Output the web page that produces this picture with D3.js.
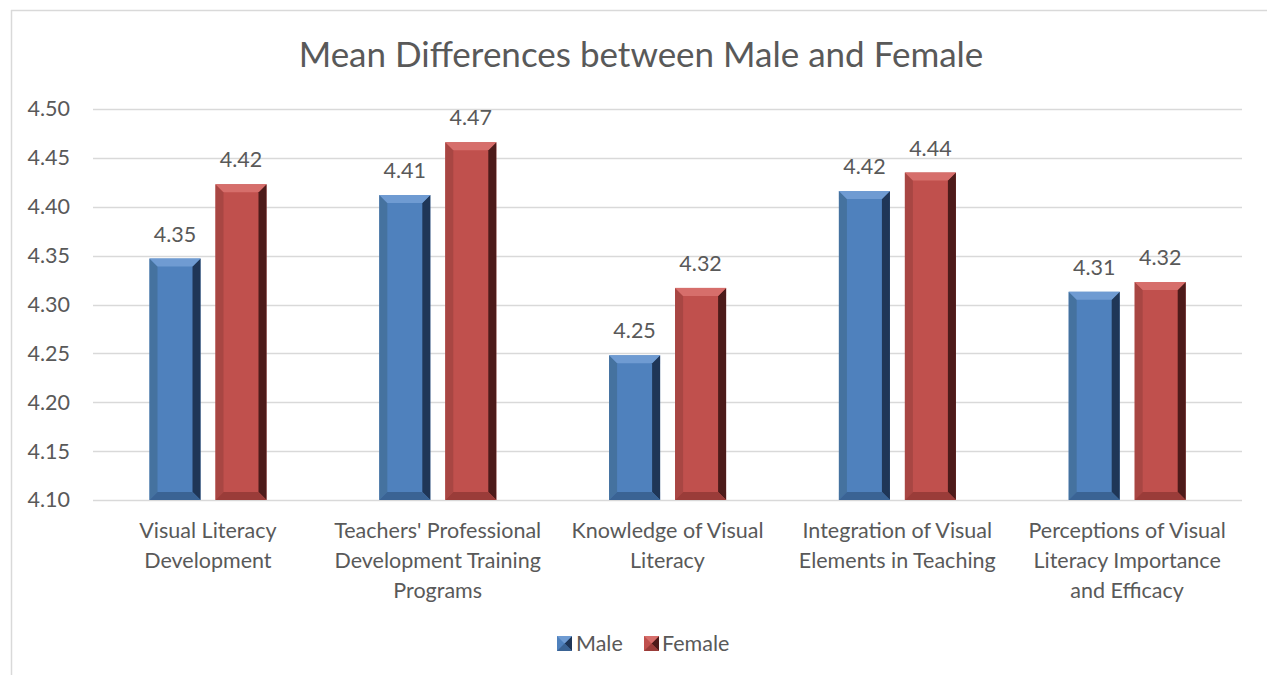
<!DOCTYPE html>
<html>
<head>
<meta charset="utf-8">
<script src="https://cdn.jsdelivr.net/npm/d3@7"></script>
<style>
  html, body { margin: 0; padding: 0; background: #fff; }
  svg { display: block; }
  text { font-family: Lato, "Liberation Sans", sans-serif; fill: #595959; }
</style>
</head>
<body>
<svg id="chart" width="1267" height="675"></svg>
<script>
const title = "Mean Differences between Male and Female";
const categories = [
  ["Visual Literacy", "Development"],
  ["Teachers' Professional", "Development Training", "Programs"],
  ["Knowledge of Visual", "Literacy"],
  ["Integration of Visual", "Elements in Teaching"],
  ["Perceptions of Visual", "Literacy Importance", "and Efficacy"]
];
const seriesNames = ["Male", "Female"];
const maleValues = [4.347, 4.412, 4.248, 4.416, 4.313];
const femaleValues = [4.423, 4.466, 4.317, 4.435, 4.323];
const maleLabels = ["4.35", "4.41", "4.25", "4.42", "4.31"];
const femaleLabels = ["4.42", "4.47", "4.32", "4.44", "4.32"];
const yTicks = [4.10, 4.15, 4.20, 4.25, 4.30, 4.35, 4.40, 4.45, 4.50];

const colors = {
  Male:   { base: "#4f81bd", light: "#6f9bd2", mid: "#45729f", dark: "#1f3657", bottom: "#3a6394" },
  Female: { base: "#c0504d", light: "#d66e6b", mid: "#a84643", dark: "#4d1b1a", bottom: "#9a3c39" }
};

const svg = d3.select("#chart");
const W = 1267, H = 675;
const plot = { left: 93, right: 1242, top: 109, bottom: 500 };
const FS = "21.5px";

// frame
svg.append("line").attr("x1", 11.5).attr("x2", 11.5).attr("y1", 10).attr("y2", H)
  .attr("stroke", "#d9d9d9").attr("stroke-width", 1.5);
svg.append("line").attr("x1", 11).attr("x2", W).attr("y1", 10.5).attr("y2", 10.5)
  .attr("stroke", "#d9d9d9").attr("stroke-width", 1.5);

// title
svg.append("text").attr("x", 641).attr("y", 67).attr("text-anchor", "middle")
  .style("font-size", "35px").text(title);

const y = d3.scaleLinear().domain([4.10, 4.50]).range([plot.bottom, plot.top]);
const x0 = d3.scaleBand().domain(d3.range(categories.length)).range([plot.left, plot.right]).padding(0);
const x1 = d3.scaleBand().domain(seriesNames).range([56.5, 173.5]).paddingInner(0.227).paddingOuter(0);

// gridlines
svg.append("g").selectAll("line").data(yTicks).join("line")
  .attr("x1", plot.left).attr("x2", plot.right)
  .attr("y1", d => Math.round(y(d)) + 0.5).attr("y2", d => Math.round(y(d)) + 0.5)
  .attr("stroke", "#d9d9d9").attr("stroke-width", 1.5);

// y axis labels
const yAxis = d3.axisLeft(y).tickValues(yTicks).tickFormat(d3.format(".2f")).tickSize(0).tickPadding(0);
const yg = svg.append("g").attr("transform", `translate(${70},0)`).call(yAxis);
yg.select(".domain").remove();
yg.selectAll("text").style("font-size", FS).attr("fill", "#595959")
  .style("font-family", "Lato, 'Liberation Sans', sans-serif");

// bars
const data = [];
categories.forEach((c, i) => {
  data.push({ i, s: "Male", v: maleValues[i], label: maleLabels[i] });
  data.push({ i, s: "Female", v: femaleValues[i], label: femaleLabels[i] });
});

const bev = 8;
const barG = svg.append("g");
data.forEach(d => {
  const bx = x0(d.i) + x1(d.s);
  const bw = x1.bandwidth();
  const by = y(d.v);
  const bh = y(4.10) - by;
  const c = colors[d.s];
  const g = barG.append("g");
  g.append("rect").attr("x", bx).attr("y", by).attr("width", bw).attr("height", bh).attr("fill", c.base);
  g.append("polygon").attr("points", [[bx, by], [bx + bev, by + bev], [bx + bev, by + bh - bev], [bx, by + bh]].join(" "))
    .attr("fill", c.mid);
  g.append("polygon").attr("points", [[bx + bw, by], [bx + bw - bev, by + bev], [bx + bw - bev, by + bh - bev], [bx + bw, by + bh]].join(" "))
    .attr("fill", c.dark);
  g.append("polygon").attr("points", [[bx, by], [bx + bw, by], [bx + bw - bev, by + bev], [bx + bev, by + bev]].join(" "))
    .attr("fill", c.light);
  g.append("polygon").attr("points", [[bx, by + bh], [bx + bw, by + bh], [bx + bw - bev, by + bh - bev], [bx + bev, by + bh - bev]].join(" "))
    .attr("fill", c.bottom);
  svg.append("text").attr("x", bx + bw / 2).attr("y", by - 17).attr("text-anchor", "middle")
    .style("font-size", FS).text(d.label);
});

// category labels
const xg = svg.append("g");
categories.forEach((lines, i) => {
  const cx = x0(i) + x0.bandwidth() / 2;
  const t = xg.append("text").attr("text-anchor", "middle").style("font-size", FS);
  lines.forEach((ln, k) => {
    t.append("tspan").attr("x", cx).attr("y", 538 + k * 30).text(ln);
  });
});

// legend
const legend = [
  { name: "Male", sx: 557, tx: 576 },
  { name: "Female", sx: 644, tx: 662 }
];
legend.forEach(l => {
  const c = colors[l.name];
  const sx = l.sx, sy = 636, s = 15;
  svg.append("rect").attr("x", sx).attr("y", sy).attr("width", s).attr("height", s).attr("fill", c.base);
  svg.append("polygon").attr("points", [[sx + s, sy], [sx + s / 2, sy + s / 2], [sx + s, sy + s]].join(" ")).attr("fill", c.dark);
  svg.append("polygon").attr("points", [[sx, sy], [sx + s / 2, sy + s / 2], [sx + s, sy]].join(" ")).attr("fill", c.light);
  svg.append("polygon").attr("points", [[sx, sy + s], [sx + s / 2, sy + s / 2], [sx + s, sy + s]].join(" ")).attr("fill", c.bottom);
  svg.append("text").attr("x", l.tx).attr("y", 651).style("font-size", FS).text(l.name);
});
</script>
</body>
</html>
